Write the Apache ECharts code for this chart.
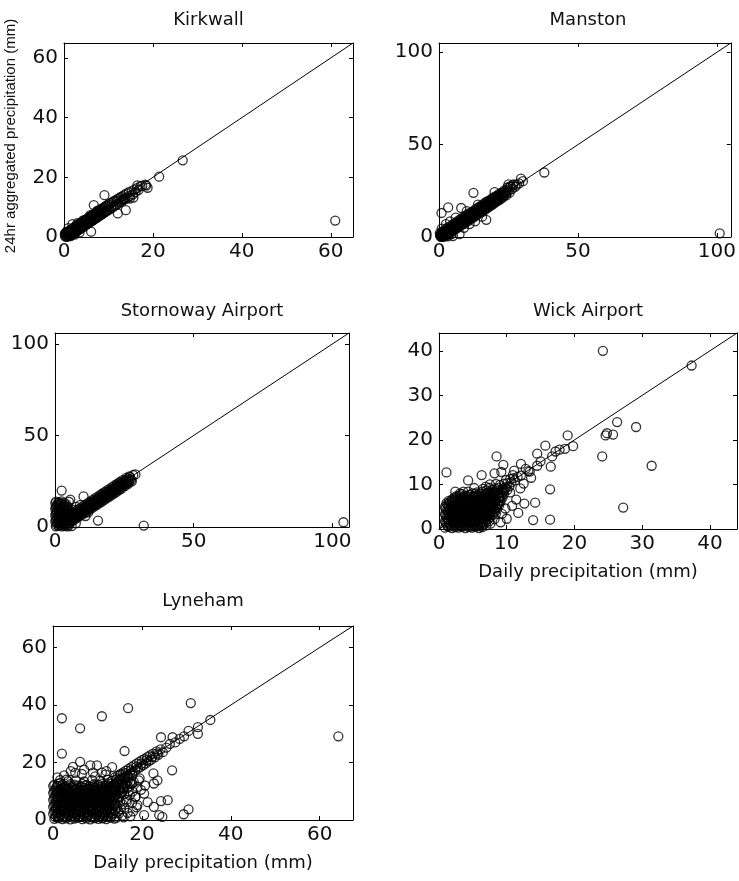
<!DOCTYPE html>
<html>
<head>
<meta charset="utf-8">
<script src="https://cdn.jsdelivr.net/npm/echarts@6/dist/echarts.min.js"></script>
<style>
html,body{margin:0;padding:0;background:#fff;}
#chart{width:739px;height:881px;}
</style>
</head>
<body>
<div id="chart"></div>
<script>
// ---------- DATA ----------
const stations = ['Kirkwall', 'Manston', 'Stornoway Airport', 'Wick Airport', 'Lyneham'];
const axisMax = [65, 105, 106, 44, 67.5];
const tickStep = [20, 50, 50, 10, 20];
const xAxisTitle = 'Daily precipitation (mm)';
const yAxisTitle = '24hr aggregated precipitation (mm)';

const kirkwall = [
[0.2,1.1],[0.3,0.1],[0.4,1.4],[0.5,0.2],[0.6,1.4],[0.7,0.1],[0.8,1.8],[0.9,0.2],[1.0,1.9],[1.1,0.4],
[1.2,2.0],[1.3,0.6],[1.4,2.4],[1.5,0.6],[1.6,2.4],[1.7,0.9],[1.8,2.7],[1.9,1.0],[2.0,2.9],[2.1,1.3],
[2.2,3.0],[2.3,1.4],[2.4,3.4],[2.5,1.6],[2.6,3.4],[2.7,1.9],[2.8,3.7],[2.9,2.0],[3.0,3.9],[3.1,2.3],
[3.2,4.0],[3.3,2.4],[3.4,4.4],[3.5,2.6],[3.6,4.4],[3.7,2.9],[3.8,4.7],[3.9,3.0],[4.0,4.9],[4.1,3.3],
[4.2,5.0],[4.3,3.4],[4.4,5.4],[4.5,3.6],[4.6,5.4],[4.7,3.9],[4.8,5.7],[4.9,4.0],[5.0,5.9],[5.1,4.3],
[5.2,6.0],[5.3,4.4],[5.4,6.4],[5.5,4.6],[5.6,6.4],[5.7,4.9],[5.8,6.7],[5.9,5.0],[6.0,6.9],[6.1,5.3],
[6.2,7.0],[6.3,5.4],[6.4,7.4],[6.5,5.6],[6.6,7.4],[6.7,5.9],[6.8,7.7],[6.9,6.0],[7.0,7.9],[7.1,6.3],
[7.2,8.0],[7.3,6.4],[7.4,8.4],[7.5,6.6],[7.6,8.4],[7.7,6.9],[7.8,8.7],[7.9,7.0],[8.0,8.9],[8.1,7.3],
[8.2,9.0],[8.3,7.4],[8.4,9.4],[8.5,7.6],[8.6,9.4],[8.7,7.9],[8.8,9.7],[8.9,8.0],[9.0,9.9],[9.1,8.3],
[9.2,10.0],[9.3,8.4],[9.4,10.4],[9.5,8.6],[9.6,10.4],[9.7,8.9],[9.8,10.7],[9.9,9.0],[10.0,10.9],[10.2,9.3],
[10.4,11.3],[10.6,9.6],[10.8,11.6],[11.0,10.0],[11.2,12.0],[11.4,10.4],[11.6,12.3],[11.8,10.8],[12.0,12.7],[12.2,11.2],
[12.4,13.0],[12.6,11.6],[12.8,13.4],[13.0,12.0],[13.2,13.7],[13.4,12.4],[13.6,14.1],[13.8,12.8],[14.0,14.5],[14.3,13.2],
[14.6,15.0],[14.9,13.8],[15.2,15.4],[15.5,14.3],[15.8,15.9],[16.1,15.0],[16.4,16.4],[16.8,15.8],[17.2,17.0],[17.6,17.2],
[18.3,17.5],[18.8,16.5],[18.5,17.2],[16.5,17.3],[21.4,20.2],[26.7,25.7],[61,5.5],[9.1,14],[6.7,10.7],[13.9,9],
[12.1,7.9],[6.1,1.8],[1.9,4.3],[1,3],[0.5,1.6],[2.4,0.8],[3.5,1.5],[15.6,13.2],[14.8,12.9],[13.6,12.9],
[4.3,5.6],[5.9,7.3],[7.5,8.8],[3,4.6],[1.5,0.3],[0.2,0.6],[0.6,0.8],[1.2,1.3],[2.6,2.6],[4.4,4.5],
[6.2,6.1],[8.1,8.2],[10.1,10.0],[11.9,11.9],[13.3,12.5]
];

const manston = [
[0.30,2.1],[0.55,0.65],[0.80,0.1],[1.05,2.95],[1.30,1.3],[1.55,0.15],[1.80,3.5],[2.05,2.25],[2.30,0.7],[2.55,4.35],
[2.80,2.7],[3.05,1.25],[3.30,5.3],[3.55,3.65],[3.80,2.1],[4.05,5.75],[4.30,4.3],[4.55,2.65],[4.80,6.7],[5.05,5.25],
[5.30,3.7],[5.55,7.35],[5.80,5.7],[6.05,4.25],[6.30,8.0],[6.55,6.65],[6.80,5.1],[7.05,9.05],[7.30,7.3],[7.55,5.75],
[7.80,9.6],[8.05,8.25],[8.30,6.7],[8.55,10.45],[8.80,8.7],[9.05,7.15],[9.30,11.0],[9.55,9.65],[9.80,8.1],[10.05,11.85],
[10.30,10.3],[10.55,8.75],[10.80,12.8],[11.05,11.25],[11.30,9.7],[11.55,13.35],[11.80,11.7],[12.05,10.25],[12.30,14.0],[12.55,12.65],
[12.80,11.1],[13.05,14.95],[13.30,13.3],[13.55,11.75],[13.80,15.6],[14.05,14.25],[14.30,12.7],[14.55,16.45],[14.80,14.7],[15.05,13.15],
[15.30,17.0],[15.55,15.65],[15.80,14.1],[16.05,17.85],[16.30,16.3],[16.55,14.75],[16.80,18.8],[17.05,17.25],[17.30,15.7],[17.55,19.35],
[17.80,17.7],[18.05,16.25],[18.30,20.0],[18.55,18.65],[18.80,17.1],[19.05,20.95],[19.30,19.3],[19.55,17.75],[19.80,21.6],[20.05,20.25],
[20.30,18.7],[20.6,22.3],[20.9,20.8],[21.2,19.5],[21.5,23.2],[21.8,21.7],[22.1,20.4],[22.4,24.0],[22.7,22.6],[23.0,21.4],
[23.4,25.1],[23.8,23.7],[24.2,22.5],[24.6,26.8],[25.0,24.8],[25.4,24.0],[25.8,27.4],[26.3,26.0],[26.8,28.5],[27.4,27.2],
[0.5,1.4],[0.75,0.1],[1.0,1.9],[1.25,0.35],[1.5,2.4],[1.75,0.85],[2.0,2.9],[2.25,1.35],[2.5,3.4],[2.75,1.85],
[3.0,3.9],[3.25,2.35],[3.5,4.4],[3.75,2.85],[4.0,4.9],[4.25,3.35],[4.5,5.4],[4.75,3.85],[5.0,5.9],[5.25,4.35],
[5.5,6.4],[5.75,4.85],[6.0,6.9],[6.25,5.35],[6.5,7.4],[6.75,5.85],[7.0,7.9],[7.25,6.35],[7.5,8.4],[7.75,6.85],
[8.0,8.9],[8.25,7.35],[8.5,9.4],[8.75,7.85],[9.0,9.9],[9.25,8.35],[9.5,10.4],[9.75,8.85],[10.0,10.9],[10.25,9.35],
[10.5,11.4],[10.75,9.85],[11.0,11.9],[11.25,10.35],[11.5,12.4],[11.75,10.85],[12.0,12.9],[12.25,11.35],[12.5,13.4],[12.75,11.85],
[13.0,13.9],[13.25,12.35],[13.5,14.4],[13.75,12.85],[14.0,14.9],[14.25,13.35],[14.5,15.4],[14.75,13.85],[15.0,15.9],[15.25,14.35],
[15.5,16.4],[15.75,14.85],[16.0,16.9],[16.25,15.35],[16.5,17.4],[16.75,15.85],[17.0,17.9],[17.25,16.35],[17.5,18.4],[17.75,16.85],
[18.0,18.9],[18.3,17.4],[18.6,19.5],[18.9,18.0],[19.2,20.1],[19.5,18.6],[19.8,20.7],[20.1,19.2],[20.4,21.3],[20.7,19.8],
[21.0,21.9],[21.3,20.4],[21.6,22.5],[21.9,21.0],[22.2,23.1],[22.6,21.7],[23.0,23.9],[23.4,22.5],[23.8,24.7],[24.2,23.3],
[24.7,25.6],
[25,28.5],[25.5,27.2],[26.6,28],[28,28.3],[28.8,29],[29.5,31.6],[30.2,30.2],[37.9,34.9],[101,2],[12.4,23.9],
[3.3,16],[0.9,13],[8,15.7],[20,24.3],[17,9.3],[7.4,1.6],[5,0.5],[2,0.3],[1,4.5],[2.5,7],
[4,8.5],[6,10.5],[10,14],[14,17.5],[9,5],[11,7],[13,8.5],[15.5,11],[4.5,1.5],[0.4,0.8],
[1.2,0.5],[0.7,1.6],[3.1,0.4]
];

const stornoway = [
[0.3,0.4],[1.4,0.6],[2.5,0.3],[3.6,0.5],[4.7,0.4],
[0.8,2.0],[1.9,2.3],[3.0,1.9],[4.1,2.2],[5.2,2.0],
[0.3,3.9],[1.4,3.6],[2.5,4.0],[3.6,3.7],[4.7,3.9],
[0.8,5.4],[1.9,5.7],[3.0,5.3],[4.1,5.6],[5.2,5.4],
[0.3,7.3],[1.4,7.0],[2.5,7.4],[3.6,7.1],[4.7,7.3],
[0.8,8.8],[1.9,9.1],[3.0,8.7],[4.1,9.0],[5.2,8.8],
[0.3,10.7],[1.4,10.4],[2.5,10.8],[3.6,10.5],[4.7,10.7],
[0.8,12.2],[1.9,12.5],[3.0,12.1],[4.1,12.4],
[0.4,13.9],[1.4,13.6],[2.4,14.0],
[0.55,1.2],[1.65,1.3],[2.75,1.1],[3.85,1.3],[4.95,1.2],
[0.1,2.9],[1.1,3.0],[2.2,2.9],[3.3,3.0],[4.4,2.9],[5.5,3.1],
[0.55,4.6],[1.65,4.7],[2.75,4.6],[3.85,4.7],[4.95,4.6],
[0.1,6.3],[1.1,6.4],[2.2,6.3],[3.3,6.4],[4.4,6.3],[5.5,6.4],
[0.55,8.0],[1.65,8.1],[2.75,8.0],[3.85,8.1],[4.95,8.0],
[0.1,9.7],[1.1,9.8],[2.2,9.7],[3.3,9.8],[4.4,9.7],
[0.55,11.4],[1.65,11.5],[2.75,11.4],[3.85,11.5],
[0.1,13.0],[1.1,13.1],[2.2,12.9],[3.4,13.2],
[4.5,5.7],[4.8,3.8],[5.1,2.1],[5.4,6.6],[5.7,4.7],[6.0,3.0],[6.3,7.5],[6.6,5.6],[6.9,3.9],[7.2,8.4],
[7.5,6.5],[7.8,4.8],[8.1,9.3],[8.4,7.4],[8.7,5.7],[9.0,10.2],[9.3,8.3],[9.6,6.6],[9.9,11.1],[10.2,9.2],
[10.5,7.5],[10.8,12.0],[11.1,10.1],[11.4,8.4],[11.7,12.9],[12.0,11.0],[12.3,9.3],[12.6,13.8],[12.9,11.9],[13.2,10.2],
[13.5,14.7],[13.8,12.8],[14.1,11.1],[14.4,15.6],[14.7,13.7],[15.0,12.0],[15.3,16.5],[15.6,14.6],[15.9,12.9],[16.2,17.4],
[16.5,15.5],[16.8,13.8],[17.1,18.3],[17.4,16.4],[17.7,14.7],[18.0,19.2],[18.3,17.3],[18.6,15.6],[18.9,20.1],[19.2,18.2],
[19.5,16.5],[19.8,21.0],[20.1,19.1],[20.4,17.4],[20.7,21.9],[21.0,20.0],[21.3,18.3],[21.6,22.8],[21.9,20.9],[22.2,19.2],
[22.5,23.7],[22.8,21.8],[23.1,20.1],[23.4,24.6],[23.7,22.7],[24.0,21.0],[24.4,25.6],[24.8,23.8],[25.2,22.4],[25.6,26.8],
[26.0,25.0],[26.4,23.6],[26.8,27.6],[27.2,26.2],[27.7,25.0],[28.2,28.4],[29,28.7],
[5.25,5.35],[5.55,3.55],[5.85,5.95],[6.15,4.15],[6.45,6.55],[6.75,4.75],[7.05,7.15],[7.35,5.35],[7.65,7.75],[7.95,5.95],
[8.25,8.35],[8.55,6.55],[8.85,8.95],[9.15,7.15],[9.45,9.55],[9.75,7.75],[10.05,10.15],[10.35,8.35],[10.65,10.75],[10.95,8.95],
[11.25,11.35],[11.55,9.55],[11.85,11.95],[12.15,10.15],[12.45,12.55],[12.75,10.75],[13.05,13.15],[13.35,11.35],[13.65,13.75],[13.95,11.95],
[14.25,14.35],[14.55,12.55],[14.85,14.95],[15.15,13.15],[15.45,15.55],[15.75,13.75],[16.05,16.15],[16.35,14.35],[16.65,16.75],[16.95,14.95],
[17.25,17.35],[17.55,15.55],[17.85,17.95],[18.15,16.15],[18.45,18.55],[18.75,16.75],[19.05,19.15],[19.35,17.35],[19.65,19.75],[19.95,17.95],
[20.25,20.35],[20.55,18.55],[20.85,20.95],[21.15,19.15],[21.45,21.55],[21.75,19.75],[22.05,22.15],[22.35,20.35],[22.65,22.75],[22.95,20.95],
[23.25,23.35],[23.55,21.55],[23.85,23.95],[24.15,22.15],[24.45,24.55],[24.75,22.75],[25.05,25.15],[25.35,23.35],[25.65,25.75],[25.95,23.95],
[26.3,26.4],[26.7,24.7],[27.1,27.2],[27.5,25.6],
[2.4,19.9],[5.5,15],[5,13.8],[10.3,16.7],[15.5,3.5],[32,0.8],[104,2.6],[6,0.5],[7.5,2],[11,6],
[12,8],[6.2,9.5],[7.6,11],[9,12]
];

const wick = [
[0.9,0.3],[1.4,0.5],[1.9,0.2],[2.4,0.4],[2.9,0.3],[3.4,0.5],[3.9,0.2],[4.4,0.4],[4.9,0.3],[5.4,0.5],[5.9,0.2],[6.4,0.4],
[1.1,1.2],[1.6,1.0],[2.1,1.3],[2.6,1.1],[3.1,0.9],[3.6,1.2],[4.1,1.0],[4.6,1.3],[5.1,1.1],[5.6,0.9],[6.1,1.2],[6.6,1.0],
[0.9,1.8],[1.4,2.0],[1.9,1.9],[2.4,1.7],[2.9,2.0],[3.4,1.8],[3.9,2.1],[4.4,1.9],[4.9,1.7],[5.4,2.0],[5.9,1.8],[6.4,2.1],[6.9,1.9],[7.4,1.7],
[1.1,2.6],[1.6,2.8],[2.1,2.7],[2.6,2.9],[3.1,2.6],[3.6,2.8],[4.1,2.5],[4.6,2.7],[5.1,2.9],[5.6,2.6],[6.1,2.8],[6.6,2.6],[7.1,2.9],[7.6,2.7],
[0.9,3.4],[1.4,3.6],[1.9,3.5],[2.4,3.3],[2.9,3.6],[3.4,3.4],[3.9,3.7],[4.4,3.5],[4.9,3.3],[5.4,3.6],[5.9,3.4],[6.4,3.7],[6.9,3.5],[7.4,3.3],[7.9,3.6],[8.4,3.4],
[1.1,4.2],[1.6,4.4],[2.1,4.3],[2.6,4.1],[3.1,4.4],[3.6,4.2],[4.1,4.5],[4.6,4.3],[5.1,4.1],[5.6,4.4],[6.1,4.2],[6.6,4.5],[7.1,4.3],[7.6,4.1],[8.1,4.4],[8.6,4.6],
[0.9,5.0],[1.4,5.2],[1.9,5.1],[2.4,4.9],[2.9,5.2],[3.4,5.0],[3.9,5.3],[4.4,5.1],[4.9,4.9],[5.4,5.2],[5.9,5.0],[6.4,5.3],[6.9,5.1],[7.4,4.9],[7.9,5.2],[8.4,5.0],[8.9,5.4],
[1.1,5.8],[1.6,6.0],[2.1,5.9],[2.6,5.7],[3.1,6.0],[3.6,5.8],[4.1,6.1],[4.6,5.9],[5.1,5.7],[5.6,6.0],[6.1,5.8],[6.6,6.1],[7.1,5.9],[7.6,5.7],[8.1,6.0],[8.6,5.8],[9.1,6.2],
[1.9,6.6],[2.4,6.8],[2.9,6.5],[3.4,6.7],[3.9,6.9],[4.4,6.6],[4.9,6.8],[5.4,6.5],[5.9,6.7],[6.4,6.9],[6.9,6.6],[7.4,6.8],[7.9,6.5],[8.4,6.7],[8.9,6.9],[9.4,7.1],
[2.6,7.4],[3.1,7.6],[3.6,7.3],[4.1,7.5],[4.6,7.7],[5.1,7.4],[5.6,7.6],[6.1,7.3],[6.6,7.5],[7.1,7.7],[7.6,7.4],[8.1,7.6],[8.6,7.8],[9.1,7.5],[9.6,7.9],
[3.1,8.0],[3.6,8.4],[4.3,8.4],[5.6,8.2],[6.4,8.4],[7.1,8.1],[7.6,8.4],[8.1,8.2],[8.6,8.5],[9.1,8.3],[9.6,8.6],[10.1,8.8],
[6.5,9.0],[7.4,9.2],[8.2,9.1],[8.8,9.3],[9.4,9.0],[9.9,9.4],[10.4,9.6],
[8.4,10.1],[9.0,9.9],[9.6,10.2],[10.1,10.3],[10.7,10.5],[11.2,10.9],
[9.9,11.0],[10.5,11.2],[11.0,11.4],[11.6,11.7],[12.1,12.0],
[1.25,0.7],[1.75,0.8],[2.25,0.6],[2.75,0.75],[3.25,0.65],[3.75,0.8],[4.25,0.7],[4.75,0.6],[5.25,0.75],[5.75,0.7],[6.25,0.65],
[0.95,1.5],[1.45,1.45],[1.95,1.6],[2.45,1.5],[2.95,1.4],[3.45,1.55],[3.95,1.5],[4.45,1.6],[4.95,1.45],[5.45,1.5],[5.95,1.55],[6.45,1.4],[6.95,1.5],
[1.25,2.3],[1.75,2.35],[2.25,2.25],[2.75,2.3],[3.25,2.4],[3.75,2.25],[4.25,2.3],[4.75,2.35],[5.25,2.2],[5.75,2.3],[6.25,2.4],[6.75,2.25],[7.25,2.3],
[0.95,3.1],[1.45,3.05],[1.95,3.15],[2.45,3.1],[2.95,3.0],[3.45,3.15],[3.95,3.1],[4.45,3.05],[4.95,3.2],[5.45,3.1],[5.95,3.0],[6.45,3.15],[6.95,3.1],[7.45,3.05],[7.95,3.2],
[1.25,3.9],[1.75,3.95],[2.25,3.85],[2.75,3.9],[3.25,4.0],[3.75,3.85],[4.25,3.9],[4.75,3.95],[5.25,3.8],[5.75,3.9],[6.25,4.0],[6.75,3.85],[7.25,3.9],[7.75,3.95],[8.25,3.85],
[0.95,4.6],[1.45,4.75],[1.95,4.7],[2.45,4.65],[2.95,4.8],[3.45,4.7],[3.95,4.6],[4.45,4.75],[4.95,4.7],[5.45,4.65],[5.95,4.8],[6.45,4.7],[6.95,4.6],[7.45,4.75],[7.95,4.7],[8.45,4.8],
[1.25,5.5],[1.75,5.55],[2.25,5.45],[2.75,5.5],[3.25,5.6],[3.75,5.45],[4.25,5.5],[4.75,5.55],[5.25,5.4],[5.75,5.5],[6.25,5.6],[6.75,5.45],[7.25,5.5],[7.75,5.55],[8.25,5.45],[8.75,5.6],
[1.45,6.3],[1.95,6.25],[2.45,6.35],[2.95,6.3],[3.45,6.2],[3.95,6.35],[4.45,6.3],[4.95,6.25],[5.45,6.4],[5.95,6.3],[6.45,6.2],[6.95,6.35],[7.45,6.3],[7.95,6.25],[8.45,6.4],[8.95,6.3],
[2.25,7.1],[2.75,7.15],[3.25,7.05],[3.75,7.1],[4.25,7.2],[4.75,7.05],[5.25,7.1],[5.75,7.15],[6.25,7.0],[6.75,7.1],[7.25,7.2],[7.75,7.05],[8.25,7.1],[8.75,7.15],[9.25,7.3],
[3.4,7.9],[4.9,8.0],[5.4,7.95],[5.9,7.9],[6.4,8.0],[6.9,7.9],[7.4,8.0],[7.9,7.95],[8.4,8.1],[8.9,8.0],[9.4,8.2],
[7.0,8.7],[7.9,8.8],[8.6,8.9],[9.3,8.8],[9.8,9.1],
[24.2,40],[37.3,36.7],[26.3,24],[29.1,22.9],[24.6,21],[25.7,21.2],[24.1,16.3],[31.4,14.2],[27.2,4.8],[1.1,12.7],
[4.3,10.9],[8.5,16.3],[9.5,14.4],[19,21],[15.7,18.7],[19.8,18.6],[14.5,16.9],[16.7,16.3],[17.8,17.8],[18.6,18],
[16.5,14],[16.4,8.9],[16.4,2.1],[13.9,2],[14.2,5.9],[12.1,14.6],[11.7,3.6],[10,2.3],[12.6,5.7],[11.1,13.1],
[13.4,12.9],[12,9.1],[6.3,12.1],[7.6,1.2],[9.8,4.6],[8.3,8],[10.5,8.2],[2.4,8.4],[12.8,13.5],[13.2,13],
[14.5,14.2],[15,15.2],[6.9,9.5],[7.5,10],[8.2,12.5],[5.2,9.2],[9.2,12.8],[24.8,21.5],[17.2,17.4],[7,0.8],
[8.2,2.2],[9.3,3.4],[10.8,5.2],[11.4,6.6],[9.1,1.5],[12.5,10.2],[13.6,11.5],[10.9,12.1]
];

const lyneham = [
[0.3,0.4],[1.2,0.7],[2.1,0.3],[3.0,0.6],[3.9,0.2],[4.8,0.5],[5.7,0.8],[6.6,0.3],[7.5,0.6],[8.4,0.2],[9.3,0.7],[10.2,0.4],[11.1,0.6],[12.0,0.3],[12.9,0.8],[13.8,0.5],
[0.7,1.5],[1.6,1.8],[2.5,1.4],[3.4,1.7],[4.3,1.5],[5.2,1.9],[6.1,1.4],[7.0,1.7],[7.9,1.6],[8.8,1.3],[9.7,1.8],[10.6,1.5],[11.5,1.7],[12.4,1.4],[13.3,1.9],
[0.3,2.9],[1.2,2.6],[2.1,3.0],[3.0,2.7],[3.9,2.9],[4.8,2.6],[5.7,3.1],[6.6,2.8],[7.5,2.6],[8.4,3.0],[9.3,2.7],[10.2,2.9],[11.1,2.6],[12.0,3.0],[12.9,2.8],[14.7,3.0],
[0.7,4.1],[1.6,3.8],[2.5,4.2],[3.4,3.9],[4.3,4.1],[5.2,3.8],[6.1,4.2],[7.0,4.0],[7.9,3.8],[8.8,4.2],[9.7,3.9],[10.6,4.1],[11.5,3.8],[12.4,4.2],[13.3,3.9],
[0.3,5.1],[1.2,5.4],[2.1,5.0],[3.0,5.3],[3.9,5.1],[4.8,5.4],[5.7,5.0],[6.6,5.3],[7.5,5.2],[8.4,4.9],[9.3,5.4],[10.2,5.1],[11.1,5.3],[12.0,5.0],[12.9,5.4],[13.8,5.1],
[0.7,6.5],[1.6,6.2],[2.5,6.6],[3.4,6.3],[4.3,6.5],[5.2,6.2],[6.1,6.6],[7.0,6.4],[7.9,6.1],[8.8,6.5],[9.7,6.3],[10.6,6.6],[11.5,6.2],[12.4,6.5],[13.3,6.3],[15.1,6.2],
[0.3,7.5],[1.2,7.8],[2.1,7.4],[3.0,7.7],[3.9,7.5],[4.8,7.8],[5.7,7.4],[6.6,7.7],[7.5,7.6],[8.4,7.3],[9.3,7.8],[10.2,7.5],[11.1,7.7],[12.0,7.4],[12.9,7.8],[13.8,7.5],[14.7,7.7],
[0.7,8.9],[1.6,8.6],[2.5,9.0],[3.4,8.7],[4.3,8.9],[5.2,8.6],[6.1,9.0],[7.0,8.8],[7.9,8.5],[8.8,8.9],[9.7,8.7],[10.6,9.0],[11.5,8.6],[12.4,8.9],[13.3,8.7],[14.2,9.0],[16.0,8.9],
[0.3,9.9],[1.2,10.2],[2.1,9.8],[3.0,10.1],[3.9,9.9],[4.8,10.2],[5.7,9.8],[6.6,10.1],[7.5,10.0],[8.4,9.7],[9.3,10.2],[10.2,9.9],[11.1,10.1],[12.0,9.8],[12.9,10.2],[13.8,9.9],[14.7,10.1],[15.6,9.8],
[0.7,11.3],[1.6,11.0],[2.5,11.4],[3.4,11.1],[4.3,11.3],[5.2,11.0],[6.1,11.4],[7.0,11.2],[7.9,10.9],[8.8,11.3],[9.7,11.1],[10.6,11.4],[11.5,11.0],[12.4,11.3],[13.3,11.1],[14.2,11.4],[15.1,11.0],[16.0,11.3],[16.9,11.6],
[0.3,12.3],[1.2,12.6],[2.1,12.2],[3.9,12.5],[4.8,12.3],[6.6,12.6],[7.5,12.2],[9.3,12.5],[10.2,12.3],[11.1,12.6],[12.0,12.4],[12.9,12.7],[13.8,12.5],[14.7,12.8],[15.6,12.6],[16.5,12.9],[17.4,13.1],
[1.6,13.9],[3.4,13.5],[5.2,13.8],[7.0,13.4],[8.8,13.9],[10.6,13.7],[12.4,14.0],[13.3,13.6],[14.2,14.1],[15.1,14.4],[16.0,14.6],[17.0,14.8],[17.9,15.6],
[0.5,1.0],[1.4,1.1],[2.3,0.9],[3.2,1.0],[4.1,1.2],[5.0,0.9],[5.9,1.1],[6.8,1.0],[7.7,1.2],[8.6,0.9],[9.5,1.0],[10.4,1.1],[11.3,0.9],[12.2,1.0],[13.1,1.2],
[0.05,2.2],[0.95,2.3],[1.85,2.1],[2.75,2.2],[3.65,2.35],[4.55,2.1],[5.45,2.25],[6.35,2.2],[7.25,2.35],[8.15,2.1],[9.05,2.2],[9.95,2.3],[10.85,2.1],[11.75,2.25],[12.65,2.2],[13.55,2.35],
[0.5,3.4],[1.4,3.3],[2.3,3.5],[3.2,3.4],[4.1,3.25],[5.0,3.45],[5.9,3.4],[6.8,3.3],[7.7,3.5],[8.6,3.4],[9.5,3.25],[10.4,3.45],[11.3,3.4],[12.2,3.3],[13.1,3.5],[14.0,3.4],
[0.05,4.6],[0.95,4.7],[1.85,4.5],[2.75,4.6],[3.65,4.75],[4.55,4.5],[5.45,4.65],[6.35,4.6],[7.25,4.75],[8.15,4.5],[9.05,4.6],[9.95,4.7],[10.85,4.5],[11.75,4.65],[12.65,4.6],[14.45,4.5],
[0.5,5.8],[1.4,5.7],[2.3,5.9],[3.2,5.8],[4.1,5.65],[5.0,5.85],[5.9,5.8],[6.8,5.7],[7.7,5.9],[8.6,5.8],[9.5,5.65],[10.4,5.85],[11.3,5.8],[12.2,5.7],[13.1,5.9],[14.0,5.8],
[0.05,7.0],[0.95,7.1],[1.85,6.9],[2.75,7.0],[3.65,7.15],[4.55,6.9],[5.45,7.05],[6.35,7.0],[7.25,7.15],[8.15,6.9],[9.05,7.0],[9.95,7.1],[10.85,6.9],[11.75,7.05],[12.65,7.0],[13.55,7.15],[14.45,6.9],
[0.5,8.2],[1.4,8.1],[2.3,8.3],[3.2,8.2],[4.1,8.05],[5.0,8.25],[5.9,8.2],[6.8,8.1],[7.7,8.3],[8.6,8.2],[9.5,8.05],[10.4,8.25],[11.3,8.2],[12.2,8.1],[13.1,8.3],[14.0,8.2],[14.9,8.1],
[0.05,9.4],[0.95,9.5],[1.85,9.3],[2.75,9.4],[3.65,9.55],[4.55,9.3],[5.45,9.45],[6.35,9.4],[7.25,9.55],[8.15,9.3],[9.05,9.4],[9.95,9.5],[10.85,9.3],[11.75,9.45],[12.65,9.4],[13.55,9.55],[14.45,9.3],[15.35,9.4],
[0.5,10.6],[1.4,10.5],[2.3,10.7],[3.2,10.6],[4.1,10.45],[5.0,10.65],[5.9,10.6],[6.8,10.5],[7.7,10.7],[8.6,10.6],[9.5,10.45],[10.4,10.65],[11.3,10.6],[12.2,10.5],[13.1,10.7],[14.0,10.6],[14.9,10.5],[15.8,10.8],[16.7,11.0],
[0.05,11.8],[0.95,11.9],[1.85,11.7],[2.75,11.8],[3.65,11.95],[4.55,11.7],[5.45,11.85],[6.35,11.8],[7.25,11.95],[8.15,11.7],[9.05,11.8],[9.95,11.9],[10.85,11.7],[11.75,11.85],[12.65,11.8],[13.55,11.95],[14.45,12.1],[15.35,12.3],[16.25,12.4],
[14.0,14.9],[14.3,13.0],[14.6,15.4],[14.9,13.7],[15.2,16.0],[15.5,14.3],[15.8,16.6],[16.1,14.9],[16.4,17.2],[16.7,15.5],
[17.0,17.8],[17.3,16.1],[17.6,18.4],[17.9,16.7],[18.2,19.0],[18.5,17.3],[18.8,19.6],[19.1,17.9],[19.4,20.2],[19.7,18.5],
[20.0,20.8],[20.3,19.1],[20.6,21.3],[20.9,19.7],[21.2,21.9],[21.5,20.4],[21.8,22.5],[22.1,21.0],[22.5,23.1],[22.9,21.8],
[23.3,23.9],[23.7,22.7],[24.2,24.6],[24.7,23.6],[15.1,15.7],[16.3,16.2],[17.5,17.3],[18.7,18.4],[19.9,19.6],[21.1,20.8],[22.3,22.0],[23.5,23.2],
[15.5,1.5],[16,4.2],[16.5,7],[17,10],[17.5,12.5],[15.2,9.5],[18,3],[18.5,8],[19,11.5],[16.8,13.5],
[14.3,0.8],[15.8,11],[17.8,6],[19.5,14.5],[15.9,0.9],[16.8,2.5],[15.6,5.5],[17.3,8.6],[18.8,4.4],[17.4,1.3],
[19.8,10.5],[18.2,13.2],[20.7,12],[21.3,6.2],[16.6,6.3],[17.9,9.9],[14.8,2.2],[15.3,3.7],
[1.6,12.9],[5,16.4],[6.1,20.2],[8.4,19],[9.9,19],[13.3,18.4],[2.5,15.5],[4,17],[7,17.5],[11,16.5],
[3,14],[12,17],[6.5,16],[9,16.5],[4.5,18.5],[1,14.8],[9.5,15.2],[11.8,15.8],
[64.2,29.1],[31,40.7],[16.9,38.9],[11,36.1],[2,35.4],[6.1,31.9],[2,23.1],[16.1,24],[35.4,34.8],[32.6,32.3],
[24.3,28.8],[26.9,28.8],[29.5,29.1],[32.6,30],[26.8,17.3],[22.6,16.2],[23.5,13.8],[22.7,12.7],[25.8,6.9],[24.3,6.6],
[22.7,4.6],[29.4,2],[30.5,3.7],[24.6,1.1],[23.9,1.7],[20.5,1.7],[18.6,8.1],[19,5.2],[20.5,9.2],[17.8,12.7],
[19.3,13.8],[27.5,27],[28.5,28.2],[30.5,31],[25.5,25.2],[26.3,26.5]
];

const seriesData = [kirkwall, manston, stornoway, wick, lyneham];

// ---------- LAYOUT ----------
const grids = [
  {left: 64, top: 43, width: 289, height: 194},
  {left: 439, top: 43, width: 298, height: 194},
  {left: 55, top: 333, width: 294, height: 194},
  {left: 439, top: 333, width: 298, height: 196},
  {left: 53, top: 626, width: 300, height: 194}
];
const titleTops = [11, 11, 302, 302, 592];
const showXName = [false, false, false, true, true];

const FONT = 'DejaVu Sans';
const labelStyle = {color: '#111', fontFamily: FONT, fontSize: 20};
const lineStyle = {color: '#000', width: 1};

const option = {
  animation: false,
  backgroundColor: '#fff',
  title: [],
  grid: [],
  xAxis: [],
  yAxis: [],
  series: [],
  graphic: [{
    type: 'text',
    x: 11, y: 136,
    rotation: Math.PI / 2,
    style: {
      text: yAxisTitle,
      fill: '#111',
      font: '15px "Liberation Sans", Arial, sans-serif',
      textAlign: 'center',
      textVerticalAlign: 'middle'
    }
  }]
};

grids.forEach((g, i) => {
  const mx = axisMax[i];
  option.grid.push(Object.assign({containLabel: false}, g));
  option.title.push({
    text: stations[i],
    left: g.left + g.width / 2,
    top: titleTops[i],
    textAlign: 'center',
    padding: 0,
    textStyle: {color: '#111', fontFamily: FONT, fontSize: 18, fontWeight: 'normal'}
  });
  const common = {
    type: 'value', min: 0, max: mx, interval: tickStep[i], gridIndex: i,
    splitLine: {show: false},
    axisLine: {show: true, onZero: false, lineStyle: lineStyle},
    axisTick: {show: true, inside: true, length: 4, lineStyle: lineStyle}
  };
  option.xAxis.push(Object.assign({}, common, {
    position: 'bottom',
    axisLabel: Object.assign({margin: 5, showMaxLabel: false}, labelStyle),
    name: showXName[i] ? xAxisTitle : '',
    nameLocation: 'middle',
    nameGap: 34,
    nameTextStyle: {color: '#111', fontFamily: FONT, fontSize: 18}
  }));
  option.xAxis.push(Object.assign({}, common, {
    position: 'top',
    axisLabel: {show: false}
  }));
  option.yAxis.push(Object.assign({}, common, {
    position: 'left',
    axisLabel: Object.assign({margin: 6, showMaxLabel: false}, labelStyle)
  }));
  option.yAxis.push(Object.assign({}, common, {
    position: 'right',
    axisLabel: {show: false}
  }));
  option.series.push({
    type: 'line',
    xAxisIndex: 2 * i, yAxisIndex: 2 * i,
    data: [[0, 0], [mx, mx]],
    showSymbol: false,
    symbol: 'none',
    silent: true,
    lineStyle: {color: '#000', width: 1},
    z: 3
  });
  option.series.push({
    type: 'scatter',
    xAxisIndex: 2 * i, yAxisIndex: 2 * i,
    data: seriesData[i],
    symbol: 'circle',
    symbolSize: 9,
    silent: true,
    large: false,
    progressive: 0,
    itemStyle: {color: 'rgba(0,0,0,0)', borderColor: '#000', borderWidth: 1.3},
    z: 2
  });
});

const chart = echarts.init(document.getElementById('chart'), null, {renderer: 'canvas'});
chart.setOption(option);
</script>
</body>
</html>
